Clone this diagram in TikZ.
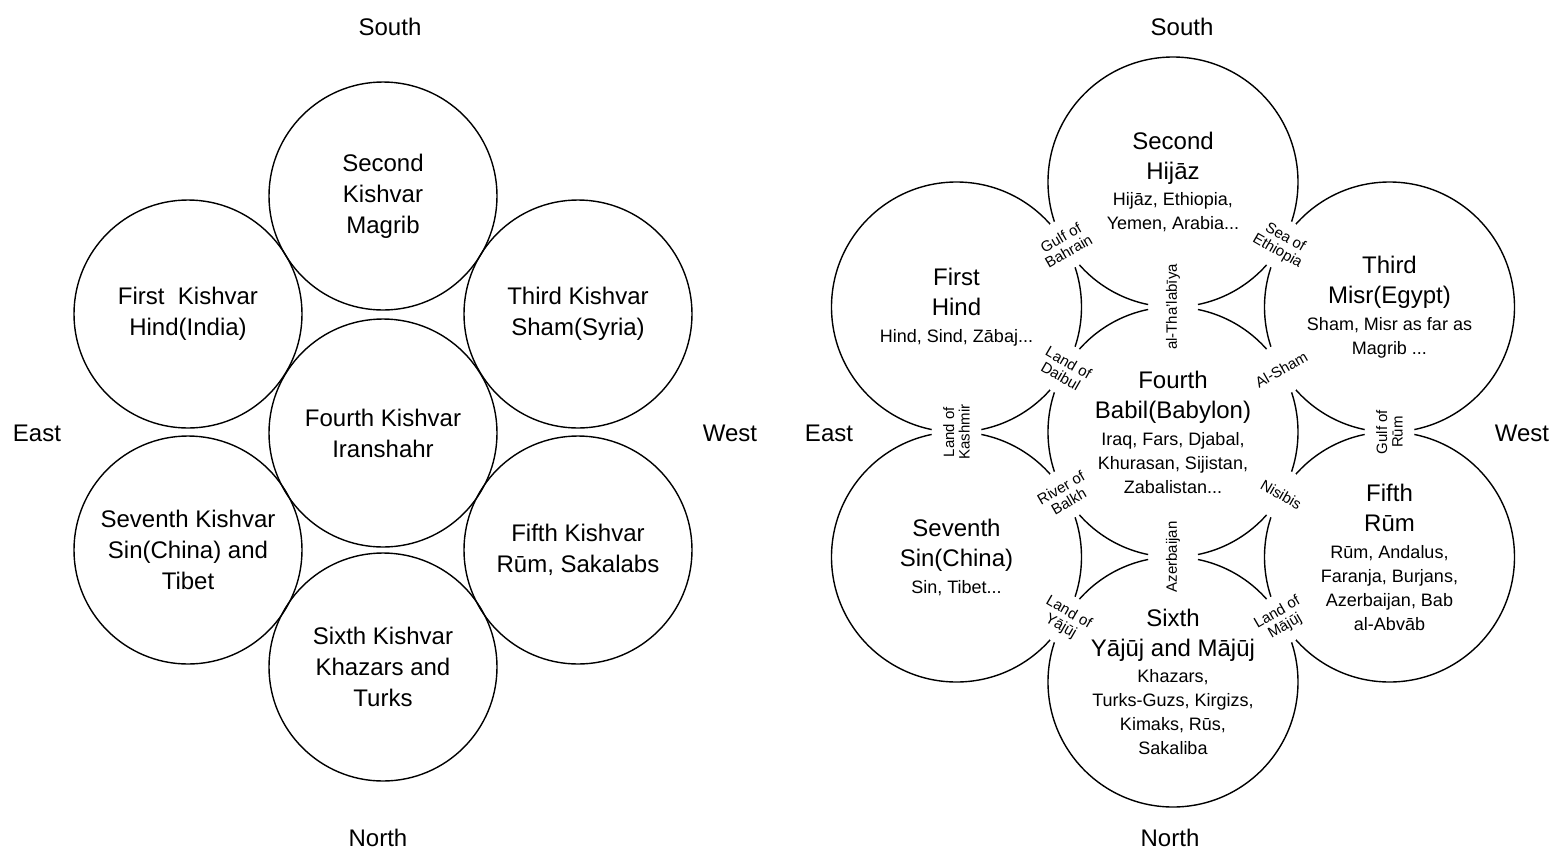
\documentclass[tikz,border=0pt]{standalone}
\usepackage{fontspec}
\setmainfont{Liberation Sans}
\usetikzlibrary{calc}

% sizes (1px of the page = 0.5pt)
\newcommand{\leftDiam}{114pt}
\newcommand{\rightDiam}{125pt}
\newcommand{\lst}[1]{{\fontsize{9}{11}\selectfont #1}}

\tikzset{
  kishvar/.style={draw, circle, line width=0.7pt, minimum size=\leftDiam, inner sep=0pt,
    align=center, font=\fontsize{12}{15.5}\selectfont},
  region/.style={kishvar, minimum size=\rightDiam, font=\fontsize{12}{15}\selectfont},
  cut/.style={circle, fill=white, minimum size=25pt, inner sep=0pt},
  tag/.style={font=\fontsize{7.5}{7.8}\selectfont, align=center, inner sep=0pt},
  compass/.style={font=\fontsize{12}{14}\selectfont, inner sep=0pt}
}

\begin{document}
\begin{tikzpicture}[x=0.5pt, y=-0.5pt]
  \useasboundingbox (0,0) rectangle (1560,853);

  % left: the seven kishvars
  \node[kishvar] (lFourth) at (383,433) {Fourth Kishvar\\Iranshahr};
  \node[kishvar] (lSecond) at (383,196) {Second\\Kishvar\\Magrib};
  \node[kishvar] (lSixth) at (383,667) {Sixth Kishvar\\Khazars and\\Turks};
  \node[kishvar] (lFirst) at (188,314) {First~ Kishvar\\Hind(India)};
  \node[kishvar] (lThird) at (578,314) {Third Kishvar\\Sham(Syria)};
  \node[kishvar] (lSeventh) at (188,550) {Seventh Kishvar\\Sin(China) and\\Tibet};
  \node[kishvar] (lFifth) at (578,550) {Fifth Kishvar\\Rūm, Sakalabs};

  \node[compass] (lSouth) at (390,27) {South};
  \node[compass] (lNorth) at (378,838) {North};
  \node[compass] (lEast) at (37,433) {East};
  \node[compass] (lWest) at (730,433) {West};

  % right: the seven kishvars with their countries
  \node[region] (fourth) at (1173,432) {Fourth\\Babil(Babylon)\\[-1.5pt]\lst{Iraq, Fars, Djabal,}\\[-3pt]\lst{Khurasan, Sijistan,}\\[-3pt]\lst{Zabalistan...}};
  \node[region] (second) at (1173,182) {Second\\Hijāz\\[-2pt]\lst{Hijāz, Ethiopia,}\\[-3pt]\lst{Yemen, Arabia...}};
  \node[region] (sixth) at (1173,682) {Sixth\\Yājūj and Mājūj\\[-2pt]\lst{Khazars,}\\[-3pt]\lst{Turks-Guzs, Kirgizs,}\\[-3pt]\lst{Kimaks, Rūs,}\\[-3pt]\lst{Sakaliba}};
  \node[region] (first) at (956.5,307) {First\\Hind\\[-1.5pt]\lst{Hind, Sind, Zābaj...}};
  \node[region] (third) at (1389.5,307) {Third\\Misr(Egypt)\\[-1.5pt]\lst{Sham, Misr as far as}\\[-3pt]\lst{Magrib ...}};
  \node[region] (seventh) at (956.5,557) {Seventh\\Sin(China)\\[-1.5pt]\lst{Sin, Tibet...}};
  \node[region] (fifth) at (1389.5,557) {Fifth\\Rūm\\[-1.5pt]\lst{Rūm, Andalus,}\\[-3pt]\lst{Faranja, Burjans,}\\[-3pt]\lst{Azerbaijan, Bab}\\[-3pt]\lst{al-Abvāb}};

  % where the circles touch
  \node[cut] (tBahrain) at ($(first)!0.5!(second)$) {};
  \node[cut] (tEthiopia) at ($(second)!0.5!(third)$) {};
  \node[cut] (tThalab) at ($(second)!0.5!(fourth)$) {};
  \node[cut] (tDaibul) at ($(first)!0.5!(fourth)$) {};
  \node[cut] (tSham) at ($(third)!0.5!(fourth)$) {};
  \node[cut] (tKashmir) at ($(first)!0.5!(seventh)$) {};
  \node[cut] (tRum) at ($(third)!0.5!(fifth)$) {};
  \node[cut] (tBalkh) at ($(seventh)!0.5!(fourth)$) {};
  \node[cut] (tNisibis) at ($(fifth)!0.5!(fourth)$) {};
  \node[cut] (tAzer) at ($(sixth)!0.5!(fourth)$) {};
  \node[cut] (tYajuj) at ($(seventh)!0.5!(sixth)$) {};
  \node[cut] (tMajuj) at ($(fifth)!0.5!(sixth)$) {};

  \node[tag, rotate=30] (lBahrain) at (tBahrain) {Gulf of\\Bahrain};
  \node[tag, rotate=-30] (lEthiopia) at (tEthiopia) {Sea of\\Ethiopia};
  \node[tag, rotate=90] (lThalab) at (tThalab) {al-Tha'labīya};
  \node[tag, rotate=-30] (lDaibul) at (tDaibul) {Land of\\Daibul};
  \node[tag, rotate=30] (lSham) at (tSham) {Al-Sham};
  \node[tag, rotate=90] (lKashmir) at (tKashmir) {Land of\\Kashmir};
  \node[tag, rotate=90] (lRum) at (tRum) {Gulf of\\Rūm};
  \node[tag, rotate=30] (lBalkh) at (tBalkh) {River of\\Balkh};
  \node[tag, rotate=-30] (lNisibis) at (tNisibis) {Nisibis};
  \node[tag, rotate=90] (lAzer) at (tAzer) {Azerbaijan};
  \node[tag, rotate=-30] (lYajuj) at (tYajuj) {Land of\\Yājūj};
  \node[tag, rotate=30] (lMajuj) at (tMajuj) {Land of\\Mājūj};

  \node[compass] (rSouth) at (1182,27) {South};
  \node[compass] (rNorth) at (1170,838) {North};
  \node[compass] (rEast) at (829,433) {East};
  \node[compass] (rWest) at (1522,433) {West};
\end{tikzpicture}
\end{document}
